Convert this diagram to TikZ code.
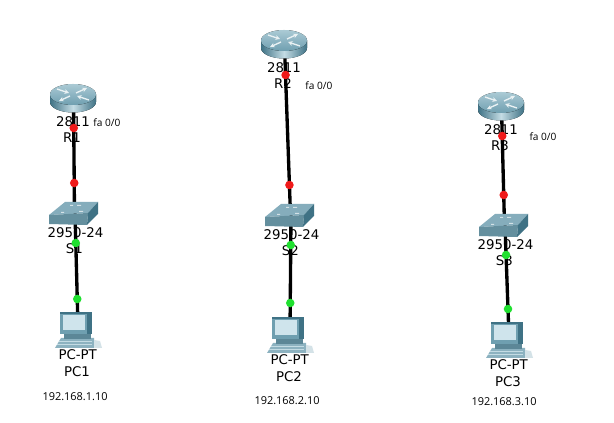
\documentclass[tikz,border=0pt]{standalone}
\usepackage{fontspec}
\setmainfont{DejaVu Sans}
\newfontfamily\notefont{Open Sans}
\usepackage{tikz}
\usetikzlibrary{arrows.meta,positioning,calc}
\definecolor{NetTeal}{HTML}{6F9FB0}
\definecolor{NetDark}{HTML}{3F7285}
\definecolor{NetLight}{HTML}{C4DCE4}
\definecolor{NetScreen}{HTML}{CFE4EC}
\definecolor{NetRed}{HTML}{F01A1A}
\definecolor{NetGreen}{HTML}{1FE02F}
\tikzset{
  anchorpt/.style={inner sep=0pt, minimum size=1pt},
  netlabel/.style={font=\fontsize{10pt}{11pt}\selectfont, text=black, inner sep=0pt},
  notelabel/.style={font=\notefont\fontsize{7.6pt}{8pt}\selectfont, text=black, inner sep=0pt},
  iplabel/.style={font=\notefont\fontsize{8.2pt}{9pt}\selectfont, text=black, inner sep=0pt},
  netlink/.style={line width=2.5pt, draw=black},
  reddot/.style={circle, fill=NetRed, inner sep=0pt, minimum size=6.4pt},
  greendot/.style={circle, fill=NetGreen, inner sep=0pt, minimum size=6.4pt},
  routerarrow/.style={-{Stealth[length=3.5pt,width=3.5pt]}, draw=white!85!NetTeal, line width=1pt},
  routericon/.pic={
    \fill[left color=NetDark, right color=NetDark, middle color=NetLight]
      (-22,-3.5) -- (-22,4) arc[start angle=180, end angle=0, x radius=23, y radius=10.5] -- (24,-3.5) -- cycle;
    \fill[top color=NetLight!70!NetTeal, bottom color=NetTeal]
      (1,-3.5) ellipse[x radius=23, y radius=10.5];
    \draw[routerarrow] (-15,-9) -- (-3,-5);
    \draw[routerarrow] (17,2) -- (5,-2);
    \draw[routerarrow] (-2,-2) -- (-13,3);
    \draw[routerarrow] (4,-5) -- (15,-10);
  },
  switchicon/.pic={
    \fill[NetTeal!85!white] (-24,2) -- (15,0) -- (25,-11) -- (-8,-11) -- cycle;
    \fill[NetTeal!90!black] (-24,2) -- (15,0) -- (14,12) -- (-24,11) -- cycle;
    \fill[NetDark] (15,0) -- (25,-11) -- (25,1) -- (14,12) -- cycle;
    \fill[white!70!NetTeal] (-12,-1) rectangle (-9,0) (4,-8) rectangle (8,-7) (-3,-8) rectangle (0,-7) (6,-2) rectangle (10,-1);
  },
  pcicon/.pic={
    \fill[NetTeal!80!white] (-21,21) -- (-15,11) -- (18,11) -- (18,21) -- cycle;
    \draw[NetLight, line width=0.6pt] (-17,14) -- (16,14) (-19,17) -- (16,17);
    \fill[white!70!NetTeal] (18,13) -- (24,14) -- (26,21) -- (18,21) -- cycle;
    \fill[NetDark!85!white] (-12,6) rectangle (15,12);
    \fill[NetTeal] (-16,-15) rectangle (16,7);
    \fill[NetDark] (11,-15) rectangle (16,7);
    \fill[NetDark] (-16,-15) rectangle (16,-13);
    \fill[NetScreen] (-13,-12) rectangle (9,3);
  }
}
\begin{document}
\begin{tikzpicture}[x=0.75pt, y=-0.75pt]
\useasboundingbox[fill=white] (0,0) rectangle (614,423);
% site, then router/switch/pc positions and the dots along the links
\foreach \n/\rx/\ry/\sx/\sy/\px/\py/\da/\db/\dc/\dd in {
  1/72/98/73/213/76/327/128/183/243/299,
  2/283/44/289/215/288/332/75/185/245/303,
  3/500/106/503/225/507/337/136/195/255/309}{
  \node[anchorpt] (R\n) at (\rx,\ry) {};
  \node[anchorpt] (S\n) at (\sx,\sy) {};
  \node[anchorpt] (PC\n) at (\px,\py) {};
  \draw[netlink] ($(R\n)+(1.5,2)$) -- ($(S\n)+(1.5,0)$);
  \draw[netlink] ($(S\n)+(2,0)$) -- ($(PC\n)+(2,0)$);
  \pic at (R\n) {routericon};
  \pic at (S\n) {switchicon};
  \pic at (PC\n) {pcicon};
  \node[netlabel] (Rm\n) at ($(R\n)+(1,23.5)$) {2811};
  \node[netlabel] (Rn\n) at ($(R\n)+(0,39.5)$) {R\n};
  \node[netlabel] (Sm\n) at ($(S\n)+(2.5,20)$) {2950-24};
  \node[netlabel] (Sn\n) at ($(S\n)+(1.3,36)$) {S\n};
  \node[netlabel] (Pm\n) at ($(PC\n)+(1.7,28)$) {PC-PT};
  \node[netlabel] (Pn\n) at ($(PC\n)+(1,44.5)$) {PC\n};
  \pgfmathsetmacro{\fa}{(\da-\ry)/(\sy-\ry)}
  \pgfmathsetmacro{\fb}{(\db-\ry)/(\sy-\ry)}
  \pgfmathsetmacro{\fc}{(\dc-\sy)/(\py-\sy)}
  \pgfmathsetmacro{\fd}{(\dd-\sy)/(\py-\sy)}
  \node[reddot] (Da\n) at ($(R\n)!\fa!(S\n)+(1.5,0)$) {};
  \node[reddot] (Db\n) at ($(R\n)!\fb!(S\n)+(1.5,0)$) {};
  \node[greendot] (Dc\n) at ($(S\n)!\fc!(PC\n)+(2,0)$) {};
  \node[greendot] (Dd\n) at ($(S\n)!\fd!(PC\n)+(2,0)$) {};
}
\node[notelabel] (fa1) at (107,123) {fa 0/0};
\node[notelabel] (fa2) at (319,86) {fa 0/0};
\node[notelabel] (fa3) at (543,137) {fa 0/0};
\node[iplabel] (ip1) at (75,397) {192.168.1.10};
\node[iplabel] (ip2) at (287,401) {192.168.2.10};
\node[iplabel] (ip3) at (504,402) {192.168.3.10};
\end{tikzpicture}
\end{document}
